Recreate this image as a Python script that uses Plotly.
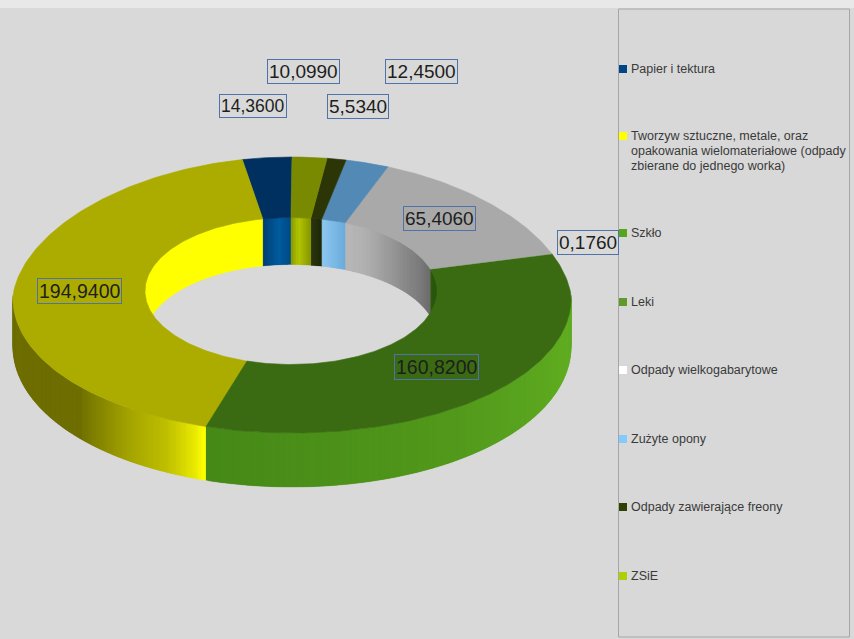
import numpy as np
import plotly.graph_objects as go

categories = ["Papier i tektura",
              "Tworzyw sztuczne, metale, oraz<br>opakowania wielomateriałowe (odpady<br>zbierane do jednego worka)",
              "Szkło", "Leki", "Odpady wielkogabarytowe", "Zużyte opony",
              "Odpady zawierające freony", "ZSiE"]
values = [14.36, 194.94, 160.82, 0.176, 65.406, 12.45, 5.534, 10.099]

legend_colors = ["#004586", "#ffff00", "#57a51c", "#5f9a2a", "#ffffff", "#83caff", "#314004", "#aecf00"]
top_colors = ["#00305f", "#acac00", "#3a6b12", "#4f8a1e", "#a9a9a9", "#5389b5", "#2b3506", "#7a8a00"]

# gradients on the walls, (angle, colour) pairs
outer_stops = {
    1: [(180, "#6e6e00"), (221, "#6e6e00"), (234, "#a0a000"), (244, "#c0c000"), (250, "#e8e800"), (252, "#ffff00")],
    2: [(252, "#478a18"), (300, "#52981c"), (340, "#60ac22"), (360, "#62b024")],
}
inner_stops = {
    0: [(90, "#004a86"), (95, "#005c9e"), (101.2, "#003f72")],
    1: [(101, "#ffff00"), (180, "#ffff00")],
    2: [(0, "#26500c"), (17, "#2e5c0e")],
    4: [(17, "#6c6c6c"), (40, "#8c8c8c"), (60, "#b2b2b2"), (68, "#b8b8b8")],
    5: [(67.7, "#6aaadb"), (77.5, "#8cc8f0")],
    6: [(77.4, "#1d2508"), (81.7, "#2c3510")],
    7: [(81.7, "#7f8f00"), (87, "#b4c800"), (90, "#8a9a00")],
}

# label boxes, centre in pixels, same order as values
label_x = [253, 79, 436, 588, 439, 421, 358, 303]
label_y = [106, 291, 367, 242, 218, 71, 106, 71]
label_size = [17.5, 19.5, 19.5, 19, 19, 19, 19, 19]
legend_y = [69, 136, 233, 302, 370, 439, 507, 576]

CX, CY, A, B = 292, 295, 279, 138
ICX, ICY, IA, IB = 291, 291, 146, 73.5


def outer(t):
    s = np.sin(np.radians(t))
    k = 1 - 0.08 * np.where(s > 0, s, 0.3 * s)
    return CX + A * np.cos(np.radians(t)) * k, CY - B * s


def inner(t):
    return ICX + IA * np.cos(np.radians(t)), ICY - IB * np.sin(np.radians(t))


def to_rgb(c):
    return [int(c[i:i + 2], 16) for i in (1, 3, 5)]


def grad(stops, t):
    ts = [p[0] for p in stops]
    cols = np.array([to_rgb(p[1]) for p in stops])
    return "rgb(%d,%d,%d)" % tuple(np.interp(t, ts, cols[:, i]) for i in range(3))


def poly(x, y, color, width=0.6):
    fig.add_trace(go.Scatter(x=x, y=y, mode="lines", fill="toself", fillcolor=color,
                             line=dict(color=color, width=width), hoverinfo="skip", showlegend=False))


def wall_steps(lo, hi, step):
    # each piece runs on under the next one, so no seams show between them
    ts = np.arange(lo, hi, step)
    return [(a, min(a + 2 * step, hi)) for a in ts]


fig = go.Figure()

total = sum(values)
edges = 90 + np.cumsum([0] + values) * 360 / total

# outer wall, only the front half shows
for i in range(len(values)):
    lo, hi = max(edges[i], 180), min(edges[i + 1], 360)
    if hi <= lo or i not in outer_stops:
        continue
    for a, b in wall_steps(lo, hi, 0.5):
        x1, y1 = outer(np.linspace(a, b, 3))
        d = 48 - 6 * np.sin(np.radians(np.linspace(a, b, 3)))
        poly(list(x1) + list(x1[::-1]) + [x1[0]],
             list(y1) + list((y1 + d)[::-1]) + [y1[0]], grad(outer_stops[i], a + 0.25), 0.2)

# inner wall, only the back half shows
for i in range(len(values)):
    if i not in inner_stops:
        continue
    lo, hi = edges[i], edges[i + 1]
    if lo >= 360:
        lo, hi = lo - 360, hi - 360
    elif hi > 360:
        lo, hi = 0, hi - 360
    hi = min(hi, 180)
    for a, b in wall_steps(lo, hi, 1.0):
        x1, y1 = inner(np.linspace(a, b, 3))
        poly(list(x1) + list(x1[::-1]) + [x1[0]],
             list(y1) + list((y1 + 47)[::-1]) + [y1[0]], grad(inner_stops[i], a + 0.5), 0.2)

# top faces of the ring
for i in range(len(values)):
    ts = np.linspace(edges[i], edges[i + 1], max(int(edges[i + 1] - edges[i]), 1) + 2)
    ox, oy = outer(ts)
    ix, iy = inner(ts)
    poly(list(ox) + list(ix[::-1]) + [ox[0]], list(oy) + list(iy[::-1]) + [oy[0]], top_colors[i])

# legend squares
fig.add_trace(go.Scatter(x=[623] * len(categories), y=legend_y, mode="markers",
                         marker=dict(symbol="square", size=8, color=legend_colors),
                         hoverinfo="skip", showlegend=False))

# lines are placed one by one, the text is wide but tightly spaced in the original
for i, name in enumerate(categories):
    for j, line in enumerate(name.split("<br>")):
        fig.add_annotation(x=629, y=legend_y[i] + j * 15, text=line, showarrow=False,
                           xanchor="left", align="left",
                           font=dict(family="Liberation Sans", size=12.5, color="#3a3a3a"))

for i, v in enumerate(values):
    fig.add_annotation(x=label_x[i], y=label_y[i], text=f"{v:.4f}".replace(".", ","), showarrow=False,
                       font=dict(family="Liberation Sans", size=label_size[i], color="#1e1e1e"),
                       bordercolor="#4f72a8", borderwidth=1, borderpad=1)

fig.update_layout(
    width=854, height=639, margin=dict(l=0, r=0, t=0, b=0),
    paper_bgcolor="#d9d9d9", plot_bgcolor="#d9d9d9",
    xaxis=dict(range=[0, 854], visible=False, fixedrange=True),
    yaxis=dict(range=[639, 0], visible=False, fixedrange=True),
    shapes=[
        dict(type="rect", x0=0, x1=854, y0=0, y1=8, fillcolor="#e8e8e8", line_width=0, layer="below"),
        dict(type="rect", x0=618.5, x1=849.5, y0=9, y1=637, fillcolor="#d8d8d8",
             line=dict(color="#a6a6a6", width=1), layer="below"),
    ],
)
fig.write_html("out.html", config={"displayModeBar": False},
               post_script="document.body.style.margin='0';document.body.style.overflow='hidden';")
